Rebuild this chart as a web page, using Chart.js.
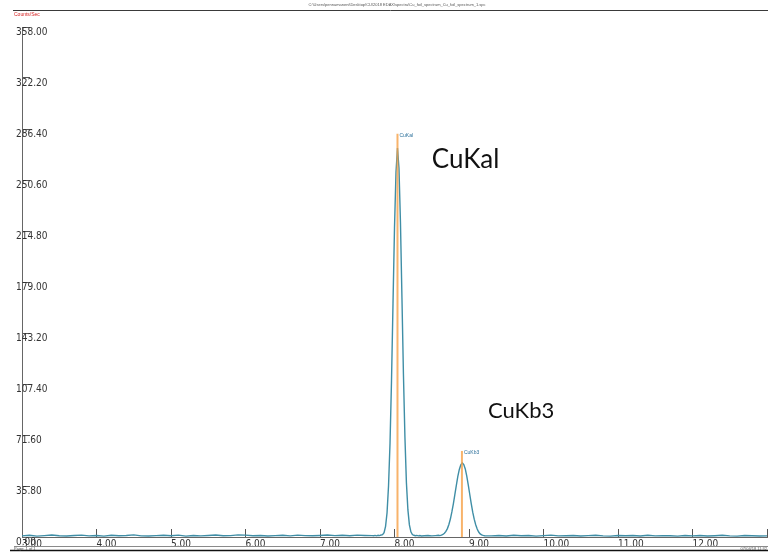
<!DOCTYPE html>
<html><head><meta charset="utf-8">
<script src="https://cdn.jsdelivr.net/npm/chart.js@4"></script>
<style>html,body{margin:0;padding:0;background:#fff;}#wrap{width:768px;height:552px;}</style>
</head><body>
<div id="wrap"><canvas id="c" width="768" height="552"></canvas></div>
<script>
// ---- data ----
const energies = [
  3.0,3.1,3.2,3.3,3.4,3.5,3.6,3.7,3.8,3.9,
  4.0,4.1,4.2,4.3,4.4,4.5,4.6,4.7,4.8,4.9,
  5.0,5.1,5.2,5.3,5.4,5.5,5.6,5.7,5.8,5.9,
  6.0,6.1,6.2,6.3,6.4,6.5,6.6,6.7,6.8,6.9,
  7.0,7.1,7.2,7.3,7.4,7.5,7.6,7.7,
  7.72,7.74,7.76,7.78,7.80,7.82,7.84,7.86,7.88,7.90,
  7.92,7.94,7.96,7.98,8.00,8.02,8.04,8.06,8.08,8.10,
  8.12,8.14,8.16,8.18,8.20,8.22,8.24,8.26,8.28,8.30,
  8.32,8.34,8.36,
  8.40,8.45,8.50,8.55,8.59,
  8.61,8.63,8.65,8.67,8.69,8.71,8.73,8.75,8.77,8.79,
  8.81,8.83,8.85,8.87,8.89,8.91,8.93,8.95,8.97,8.99,
  9.01,9.03,9.05,9.07,9.09,9.11,9.13,9.15,9.17,9.19,9.21,
  9.3,9.4,9.5,9.6,9.7,9.8,9.9,10.0,10.1,10.2,
  10.3,10.4,10.5,10.6,10.7,10.8,10.9,11.0,11.1,11.2,
  11.3,11.4,11.5,11.6,11.7,11.8,11.9,12.0,12.1,12.2,
  12.3,12.4,12.5,12.6,12.7,12.8,12.9,13.0
];
const counts = [
  0.8,1.2,0.6,1.0,1.4,0.9,0.7,1.1,1.3,0.8,
  1.0,0.6,1.2,0.9,1.1,1.5,0.8,0.7,1.0,1.2,
  0.9,1.3,0.6,1.0,0.8,1.1,1.4,0.9,1.0,1.5,
  1.3,0.9,1.1,0.7,1.0,1.2,0.8,1.3,1.0,0.9,
  1.1,1.4,1.0,1.2,0.9,1.3,1.1,1.0,
  0.9,1.1,0.8,1.2,1.0,1.4,1.6,3.0,7.5,17,
  36,66,110,164,217,256,273,259,221,168,
  114,70,38,19,8.5,3.6,1.7,1.2,0.9,1.1,
  0.8,1.0,0.7,
  0.9,1.1,0.8,1.0,1.2,
  1.0,1.3,1.8,2.6,3.9,5.9,8.8,12.6,17.6,23.3,
  29.8,36.2,42.5,47.4,50.6,52.0,50.8,47.8,42.8,36.6,
  30.0,23.5,17.4,12.5,8.6,5.6,3.5,2.2,1.5,1.1,0.9,
  0.8,1.0,0.7,1.2,0.9,1.1,0.6,1.0,1.3,0.8,
  0.9,1.1,0.7,1.0,1.2,0.8,0.6,1.0,0.9,1.1,
  0.7,1.2,0.8,1.0,0.9,0.6,1.1,0.8,1.0,0.7,
  0.9,1.2,0.8,0.6,1.0,0.9,0.7,0.8
];
const xTickValues = [3,4,5,6,7,8,9,10,11,12,13];
const xTickLabels = ['3.00','4.00','5.00','6.00','7.00','8.00','9.00','10.00','11.00','12.00',''];
const yTickValues = [0,35.8,71.6,107.4,143.2,179.0,214.8,250.6,286.4,322.2,358.0];
const yTickLabels = ['0.00','35.80','71.60','107.40','143.20','179.00','214.80','250.60','286.40','322.20','358.00'];
const markerNames = ['CuKal','CuKb3'];
const markerEnergies = [8.04, 8.905];
const markerHeights = [283, 60.4];
const peakLabels = ['CuKal','CuKb3'];
const peakLabelEnergies = [8.50, 9.255];
const peakLabelCounts = [264.6, 88.4];
const peakLabelSizes = [26, 22];
const titleText = 'C:\\Users\\pennamaneni\\Desktop\\CU\\2018 EDAX\\spectra\\Cu_foil_spectrum_Cu_foil_spectrum_1.spc';
const yUnitText = 'Counts/Sec';
const footLeft = 'Page: 1 of 1';
const footRight = '07/04/18 11:32';

const tickFont = {family:"'Liberation Sans Narrow','DejaVu Sans Condensed',Arial,sans-serif", size:10};

const spectrum = energies.map((e,i)=>({x:e,y:counts[i]}));
const markerSets = markerEnergies.map((e,i)=>({
  label: markerNames[i],
  data: [{x:e,y:0},{x:e,y:markerHeights[i]}],
  borderColor:'rgba(246,160,70,0.8)', borderWidth:2, pointRadius:0, order:0
}));

const deco = {
  id:'deco',
  afterDraw(chart){
    const ctx = chart.ctx, xs = chart.scales.x, ys = chart.scales.y;
    ctx.save();
    ctx.strokeStyle = '#3a3a3a'; ctx.lineWidth = 1;
    ctx.beginPath(); ctx.moveTo(13,10.5); ctx.lineTo(768,10.5); ctx.stroke();
    ctx.fillStyle = '#555'; ctx.font = "4px 'Liberation Sans',Arial"; ctx.textAlign='center'; ctx.textBaseline='middle';
    ctx.fillText(titleText, 397, 4.5);
    ctx.fillStyle = '#d62020'; ctx.textAlign='left';
    ctx.font = "5px 'Liberation Sans',Arial";
    ctx.fillText(yUnitText, 14, 15);
    ctx.fillStyle = '#2a6f9a'; ctx.font = "5px 'Liberation Sans',Arial";
    markerNames.forEach((n,i)=>{
      ctx.fillText(n, xs.getPixelForValue(markerEnergies[i])+2, ys.getPixelForValue(markerHeights[i])+2);
    });
    ctx.fillStyle = '#111'; ctx.textBaseline='middle';
    peakLabels.forEach((t,i)=>{
      ctx.font = peakLabelSizes[i] + "px Lato,'Open Sans',sans-serif";
      ctx.fillText(t, xs.getPixelForValue(peakLabelEnergies[i]), ys.getPixelForValue(peakLabelCounts[i]));
    });
    ctx.strokeStyle = '#8a8a8a'; ctx.lineWidth = 1.2;
    ctx.beginPath(); ctx.moveTo(14,546.5); ctx.lineTo(768,546.5); ctx.stroke();
    ctx.strokeStyle = '#111'; ctx.lineWidth = 1.6;
    ctx.beginPath(); ctx.moveTo(10,550.5); ctx.lineTo(768,550.5); ctx.stroke();
    ctx.fillStyle = '#555'; ctx.font = "4px 'Liberation Sans',Arial"; ctx.textBaseline='middle';
    ctx.fillText(footLeft, 14, 548.5);
    ctx.textAlign='right'; ctx.fillText(footRight, 767, 548.5);
    ctx.restore();
  }
};

new Chart(document.getElementById('c'), {
  type:'line',
  data:{ datasets:[
    ...markerSets,
    { label:'spectrum', data:spectrum, borderColor:'#3f8ea6', borderWidth:1.4, pointRadius:0, tension:0, order:1 }
  ]},
  options:{
    responsive:false, animation:false, events:[],
    layout:{ padding:{ left:16, top:27, right:1, bottom:0 } },
    plugins:{ legend:{display:false}, tooltip:{enabled:false}, title:{display:false} },
    scales:{
      x:{
        type:'linear', min:3, max:13,
        afterFit(s){ s.height = 15; s.paddingLeft = 0; s.paddingRight = 0; },
        afterBuildTicks(s){ s.ticks = xTickValues.map(v=>({value:v})); },
        ticks:{ align:'start', padding:9, maxRotation:0, autoSkip:false, color:'#333', font:tickFont,
          callback:(v,i)=>xTickLabels[i] },
        grid:{ drawOnChartArea:false, drawTicks:true, tickLength:-8, color:'#555', lineWidth:1 },
        border:{ display:true, color:'#666', width:1 }
      },
      y:{
        type:'linear', min:0, max:358,
        afterFit(s){ s.width = 6; s.paddingTop = 0; s.paddingBottom = 0; },
        afterBuildTicks(s){ s.ticks = yTickValues.map(v=>({value:v})); },
        ticks:{ mirror:true, labelOffset:5, padding:-6, autoSkip:false, color:'#333', font:tickFont,
          callback:(v,i)=>yTickLabels[i] },
        grid:{ drawOnChartArea:false, drawTicks:true, tickLength:-8, color:'#555', lineWidth:1 },
        border:{ display:true, color:'#666', width:1 }
      }
    }
  },
  plugins:[deco]
});
</script>
</body></html>
